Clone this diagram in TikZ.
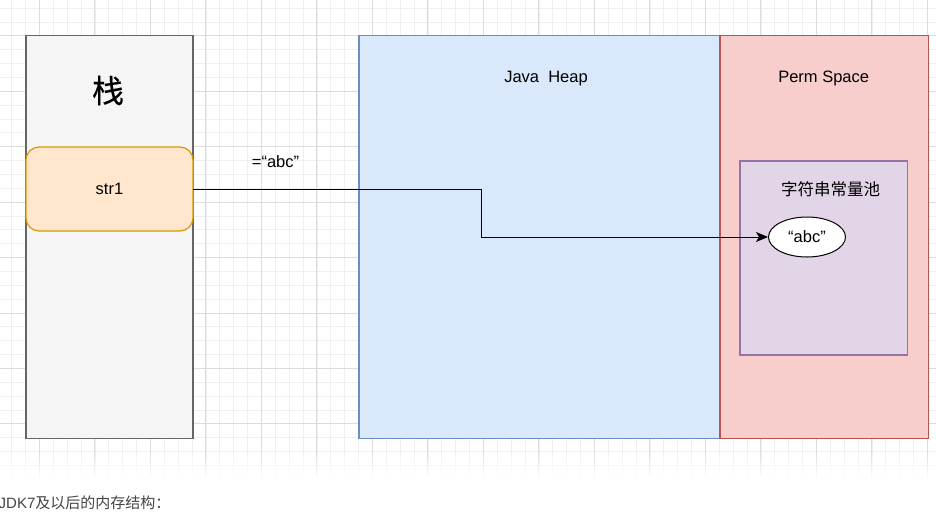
\documentclass[tikz,border=0pt]{standalone}
\usepackage{fontspec}
\setmainfont{Liberation Sans}
\newfontfamily\cjk{Noto Sans CJK SC}
\newfontfamily\cjkbig[FakeBold=0.4]{Noto Sans CJK SC}
\usetikzlibrary{arrows.meta,fadings,shapes.geometric}
\definecolor{minorc}{HTML}{EFEFEF}
\definecolor{majorc}{HTML}{DCDCDC}
\definecolor{stackfill}{HTML}{F5F5F5}
\definecolor{stackdraw}{HTML}{666666}
\definecolor{orfill}{HTML}{FFE6CC}
\definecolor{ordraw}{HTML}{D79B00}
\definecolor{blfill}{HTML}{DAE8FC}
\definecolor{bldraw}{HTML}{6C8EBF}
\definecolor{rdfill}{HTML}{F8CECC}
\definecolor{rddraw}{HTML}{B85450}
\definecolor{pufill}{HTML}{E1D5E7}
\definecolor{pudraw}{HTML}{9673A6}
\definecolor{captc}{HTML}{444444}
\begin{document}
\begin{tikzpicture}[x=1pt,y=-1pt,
  minorgrid/.style={draw=minorc,line width=0.6pt},
  majorgrid/.style={draw=majorc,line width=0.8pt},
  region/.style={draw,line width=1.2pt,inner sep=0pt,outer sep=0pt},
  lbl/.style={inner sep=0pt,font=\fontsize{16.5}{20}\selectfont},
  conn/.style={line width=1pt,-{Stealth[length=12pt,width=10pt,inset=3pt]}}]
\useasboundingbox (0,0) rectangle (936,517);
\fill[white] (0,0) rectangle (936,517);
% grid
\foreach \i in {-2,...,64} {\pgfmathsetmacro\xx{39.3+13.875*\i}
  \draw[minorgrid] (\xx,0) -- (\xx,478);}
\foreach \i in {-2,...,31} {\pgfmathsetmacro\yy{35.7+13.86*\i}
  \draw[minorgrid] (0,\yy) -- (936,\yy);}
\foreach \i in {0,...,16} {\pgfmathsetmacro\xx{39.3+55.5*\i}
  \draw[majorgrid] (\xx,0) -- (\xx,478);}
\foreach \i in {0,...,7} {\pgfmathsetmacro\yy{35.7+55.45*\i}
  \draw[majorgrid] (0,\yy) -- (936,\yy);}
\fill[white,path fading=north] (0,450) rectangle (936,479);
\fill[white] (0,478.5) rectangle (936,517);
% regions
\node[region,draw=stackdraw,fill=stackfill,minimum width=167pt,minimum height=403pt] (stack) at (109.5,237) {};
\node[region,draw=bldraw,fill=blfill,minimum width=361pt,minimum height=403pt] (heap) at (539.5,237) {};
\node[region,draw=rddraw,fill=rdfill,minimum width=208.5pt,minimum height=403pt] (perm) at (824.25,237) {};
\node[region,draw=pudraw,fill=pufill,minimum width=167.7pt,minimum height=194pt] (pool) at (823.85,258) {};
\node[region,draw=ordraw,fill=orfill,rounded corners=13pt,minimum width=167pt,minimum height=84pt] (str1) at (109.5,189) {};
\node[draw=black,fill=white,line width=1pt,ellipse,minimum width=77pt,minimum height=40pt,inner sep=0pt] (abc) at (807,237) {};
% labels
\node[inner sep=0pt,font=\cjkbig\fontsize{32}{36}\selectfont] (stacklbl) at (108,90.5) {栈};
\node[lbl] (str1lbl) at (str1.center) {str1};
\node[lbl] (heaplbl) at (546,78.3) {Java\ \ Heap};
\node[lbl] (permlbl) at (823.7,78.3) {Perm Space};
\node[lbl,font=\cjk\fontsize{16.5}{20}\selectfont] (poollbl) at (830.5,189.3) {字符串常量池};
\node[lbl] (abclbl) at (abc.center) {“abc”};
\node[lbl] (eqlbl) at (275.5,162) {=“abc”};
\node[inner sep=0pt,anchor=west,text=captc,font=\fontsize{15}{18}\selectfont] (caption) at (-1.5,503) {JDK7{\cjk 及以后的内存结构：}};
% connector
\coordinate (bend) at (481,189);
\draw[conn] (str1.east) -- (bend) |- (abc.west);
\end{tikzpicture}
\end{document}
